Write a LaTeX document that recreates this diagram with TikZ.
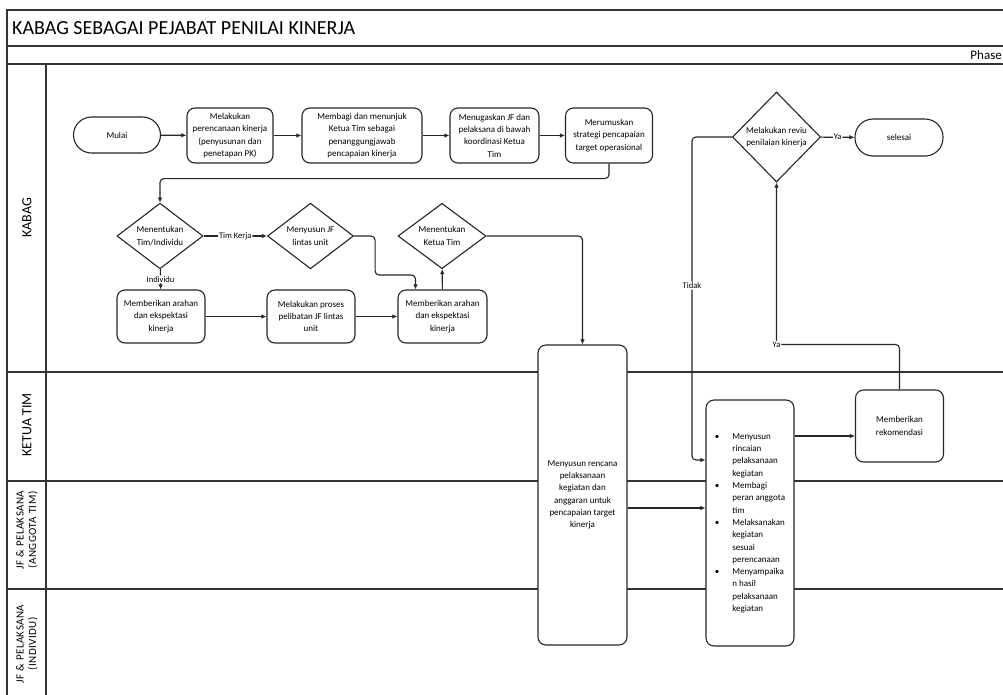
\documentclass[tikz,border=0pt]{standalone}
\usepackage{fontspec}
\setmainfont{Carlito}
\usetikzlibrary{shapes.geometric,arrows.meta,calc}
\begin{document}
\begin{tikzpicture}[x=1pt,y=-1pt,
  lane/.style={line width=1.4pt, draw=black!80},
  proc/.style={draw=black!85, fill=white, line width=1.1pt, rounded corners=8pt, align=center,
    font=\fontsize{9}{12.3}\selectfont, inner sep=1pt},
  term/.style={draw=black!85, fill=white, line width=1.1pt, rounded corners=18pt, align=center,
    font=\fontsize{9}{12.3}\selectfont, inner sep=1pt},
  dec/.style={diamond, draw=black!85, fill=white, line width=1.1pt, align=center, inner sep=0pt,
    font=\fontsize{9}{12.3}\selectfont},
  arr/.style={draw=black!85, line width=1.1pt, -{Latex[length=5pt,width=4.5pt]}, rounded corners=4pt},
  lbl/.style={fill=white, inner sep=1pt, font=\fontsize{8.5}{10}\selectfont},
  lanetxt/.style={rotate=90, align=center}]
\useasboundingbox (0,0) rectangle (1003,694);
\fill[white] (0,0) rectangle (1003,694);
% frame and lanes
\draw[lane] (1003,10) -- (7,10) -- (7,700);
\draw[lane] (7,46) -- (1003,46);
\draw[lane] (7,64) -- (1003,64);
\draw[lane] (46,64) -- (46,700);
\draw[lane] (7,372) -- (1003,372);
\draw[lane] (7,481) -- (1003,481);
\draw[lane] (7,589) -- (1003,589);
\node[anchor=west, font=\fontsize{20}{22}\selectfont, inner sep=1pt] (title) at (11,28) {KABAG SEBAGAI PEJABAT PENILAI KINERJA};
\node[anchor=east, font=\fontsize{13}{14}\selectfont, inner sep=1pt] (phase) at (1003,55) {Phase};
\node[lanetxt, font=\fontsize{14}{15}\selectfont] (l1) at (27,218) {KABAG};
\node[lanetxt, font=\fontsize{14}{15}\selectfont] (l2) at (27,425) {KETUA TIM};
\node[lanetxt, font=\fontsize{11}{12.5}\selectfont\addfontfeature{LetterSpace=4}] (l3) at (27,530) {JF \& PELAKSANA\\(ANGGOTA TIM)};
\node[lanetxt, font=\fontsize{11}{12.5}\selectfont\addfontfeature{LetterSpace=4}] (l4) at (27,644) {JF \& PELAKSANA\\(INDIVIDU)};
% nodes
\node[term, minimum width=87pt, minimum height=36pt] (mulai) at (117,135) {Mulai};
\node[proc, minimum width=86pt, minimum height=55pt] (b1) at (230,135.5) {Melakukan\\perencanaan kinerja\\(penyusunan dan\\penetapan PK)};
\node[proc, minimum width=120pt, minimum height=55pt] (b2) at (362,135.5) {Membagi dan menunjuk\\Ketua Tim sebagai\\penanggungjawab\\pencapaian kinerja};
\node[proc, minimum width=89pt, minimum height=55pt] (b3) at (494.5,135.5) {Menugaskan JF dan\\pelaksana di bawah\\koordinasi Ketua\\Tim};
\node[proc, minimum width=87pt, minimum height=55pt] (mer) at (609,135.5) {Merumuskan\\strategi pencapaian\\target operasional};
\node[dec, minimum width=86pt, minimum height=54pt] (d1) at (160,236) {Menentukan\\Tim/Individu};
\node[dec, minimum width=86pt, minimum height=54pt] (d2) at (310.5,236) {Menyusun JF\\lintas unit};
\node[dec, minimum width=88pt, minimum height=54pt] (d3) at (442,236) {Menentukan\\Ketua Tim};
\node[proc, minimum width=88pt, minimum height=53pt] (c1) at (161,316.5) {Memberikan arahan\\dan ekspektasi\\kinerja};
\node[proc, minimum width=88pt, minimum height=53pt] (c2) at (311,316.5) {Melakukan proses\\pelibatan JF lintas\\unit};
\node[proc, minimum width=89pt, minimum height=53pt] (c3) at (442.5,316.5) {Memberikan arahan\\dan ekspektasi\\kinerja};
\node[proc, minimum width=89pt, minimum height=300pt] (ren) at (582.5,495) {Menyusun rencana\\pelaksanaan\\kegiatan dan\\anggaran untuk\\pencapaian target\\kinerja};
\node[proc, minimum width=88pt, minimum height=246pt] (bul) at (750,523)
  {\begin{tabular}{@{}l@{\hspace{13pt}}l@{}}
   \textbullet & Menyusun\\ & rincaian\\ & pelaksanaan\\ & kegiatan\\
   \textbullet & Membagi\\ & peran anggota\\ & tim\\
   \textbullet & Melaksanakan\\ & kegiatan\\ & sesuai\\ & perencanaan\\
   \textbullet & Menyampaika\\ & n hasil\\ & pelaksanaan\\ & kegiatan
   \end{tabular}};
\node[proc, minimum width=88pt, minimum height=72pt] (rek) at (899.5,426) {Memberikan\\rekomendasi};
\node[dec, minimum width=88pt, minimum height=90pt] (rev) at (776.5,137) {Melakukan reviu\\penilaian kinerja};
\node[term, minimum width=88pt, minimum height=37pt] (sel) at (899,137.5) {selesai};
% connectors
\draw[arr] (mulai) -- (b1);
\draw[arr] (b1) -- (b2);
\draw[arr] (b2) -- (b3);
\draw[arr] (b3) -- (mer);
\draw[arr] (mer.south) -- ++(0,15) -| (d1.north);
\draw[arr] (d1) -- (d2) node[lbl, midway] {Tim Kerja};
\draw[arr] (d1) -- (c1) node[lbl, midway] {Individu};
\draw[arr] (d2.east) -- ++(21,0) -- ++(0,39) -| ([xshift=-27pt]c3.north);
\draw[arr] (c1) -- (c2);
\draw[arr] (c2) -- (c3);
\draw[arr] (c3) -- (d3);
\draw[arr] (d3.east) -| (ren.north);
\draw[arr] ([yshift=-13pt]ren.east) -- ([yshift=-13pt]ren.east -| bul.west);
\draw[arr] ([yshift=87pt]bul.east) -- ([yshift=87pt]bul.east -| rek.west);
\draw[arr] (rek.north) -- ++(0,-45) -| (rev.south) node[lbl, pos=0.5] {Ya};
\draw[arr] (rev.west) -- ++(-40,0) |- ([yshift=63pt]bul.west) node[lbl, pos=0.23] {Tidak};
\draw[arr] (rev) -- (sel) node[lbl, midway] {Ya};
\end{tikzpicture}
\end{document}
